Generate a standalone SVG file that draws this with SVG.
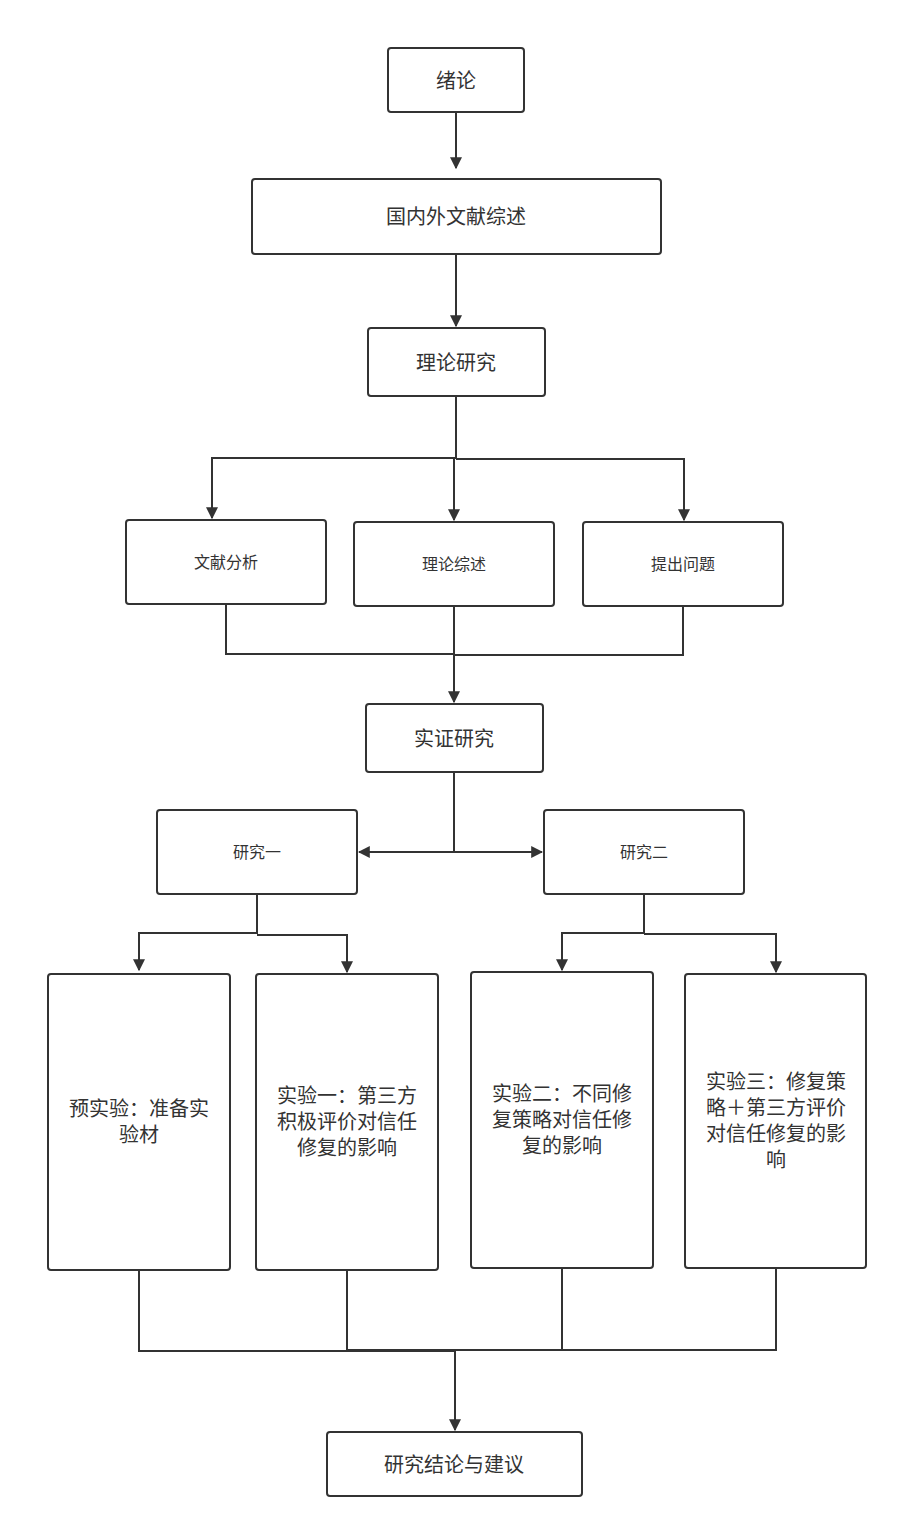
<svg xmlns="http://www.w3.org/2000/svg" width="898" height="1528" viewBox="0 0 898 1528">
<style>
rect{fill:#fff;stroke:#333;stroke-width:2}
text{font-family:"Noto Sans CJK SC",sans-serif;fill:#333;text-anchor:middle;dominant-baseline:central}
.b{font-size:20px}.s{font-size:16px}.l{font-size:20px}
#conn path{fill:none;stroke:#333;stroke-width:2}
</style>
<defs><marker id="a" viewBox="0 0 10 10" refX="9" refY="5" markerWidth="6" markerHeight="6" orient="auto"><path d="M0,0L10,5L0,10z" fill="#333"/></marker></defs>
<rect width="898" height="1528" style="fill:#fff;stroke:none"/>
<g id="conn">
<path d="M456,112V168" marker-end="url(#a)"/>
<path d="M456,254V326" marker-end="url(#a)"/>
<path d="M456,396V458H212V518" marker-end="url(#a)"/>
<path d="M456,459H684V520" marker-end="url(#a)"/>
<path d="M454,459V520" marker-end="url(#a)"/>
<path d="M226,604V654H454"/>
<path d="M683,606V655H454"/>
<path d="M454,606V702" marker-end="url(#a)"/>
<path d="M454,772V852H359" marker-end="url(#a)"/>
<path d="M454,852H542" marker-end="url(#a)"/>
<path d="M257,894V933H139V970" marker-end="url(#a)"/>
<path d="M257,935H347V972" marker-end="url(#a)"/>
<path d="M644,894V933H562V970" marker-end="url(#a)"/>
<path d="M644,934H776V972" marker-end="url(#a)"/>
<path d="M139,1270V1351H455"/>
<path d="M347,1270V1350H455"/>
<path d="M562,1268V1350"/>
<path d="M776,1268V1350H455"/>
<path d="M455,1351V1430" marker-end="url(#a)"/>
</g>
<g id="n1"><rect x="388" y="48" width="136" height="64" rx="3"/><text class="b" x="456" y="79">绪论</text></g>
<g id="n2"><rect x="252" y="179" width="409" height="75" rx="3"/><text class="b" x="456" y="215">国内外文献综述</text></g>
<g id="n3"><rect x="368" y="328" width="177" height="68" rx="3"/><text class="b" x="456" y="361">理论研究</text></g>
<g id="n4"><rect x="126" y="520" width="200" height="84" rx="3"/><text class="s" x="226" y="561">文献分析</text></g>
<g id="n5"><rect x="354" y="522" width="200" height="84" rx="3"/><text class="s" x="454" y="563">理论综述</text></g>
<g id="n6"><rect x="583" y="522" width="200" height="84" rx="3"/><text class="s" x="683" y="563">提出问题</text></g>
<g id="n7"><rect x="366" y="704" width="177" height="68" rx="3"/><text class="b" x="454" y="737">实证研究</text></g>
<g id="n8"><rect x="157" y="810" width="200" height="84" rx="3"/><text class="s" x="257" y="851">研究一</text></g>
<g id="n9"><rect x="544" y="810" width="200" height="84" rx="3"/><text class="s" x="644" y="851">研究二</text></g>
<g id="n10"><rect x="48" y="974" width="182" height="296" rx="3"/><text class="l" x="139" y="1107">预实验：准备实</text><text class="l" x="139" y="1133">验材</text></g>
<g id="n11"><rect x="256" y="974" width="182" height="296" rx="3"/><text class="l" x="347" y="1094">实验一：第三方</text><text class="l" x="347" y="1120">积极评价对信任</text><text class="l" x="347" y="1146">修复的影响</text></g>
<g id="n12"><rect x="471" y="972" width="182" height="296" rx="3"/><text class="l" x="562" y="1092">实验二：不同修</text><text class="l" x="562" y="1118">复策略对信任修</text><text class="l" x="562" y="1144">复的影响</text></g>
<g id="n13"><rect x="685" y="974" width="181" height="294" rx="3"/><text class="l" x="776" y="1080">实验三：修复策</text><text class="l" x="776" y="1106">略＋第三方评价</text><text class="l" x="776" y="1132">对信任修复的影</text><text class="l" x="776" y="1158">响</text></g>
<g id="n14"><rect x="327" y="1432" width="255" height="64" rx="3"/><text class="b" x="454" y="1463">研究结论与建议</text></g>
</svg>
